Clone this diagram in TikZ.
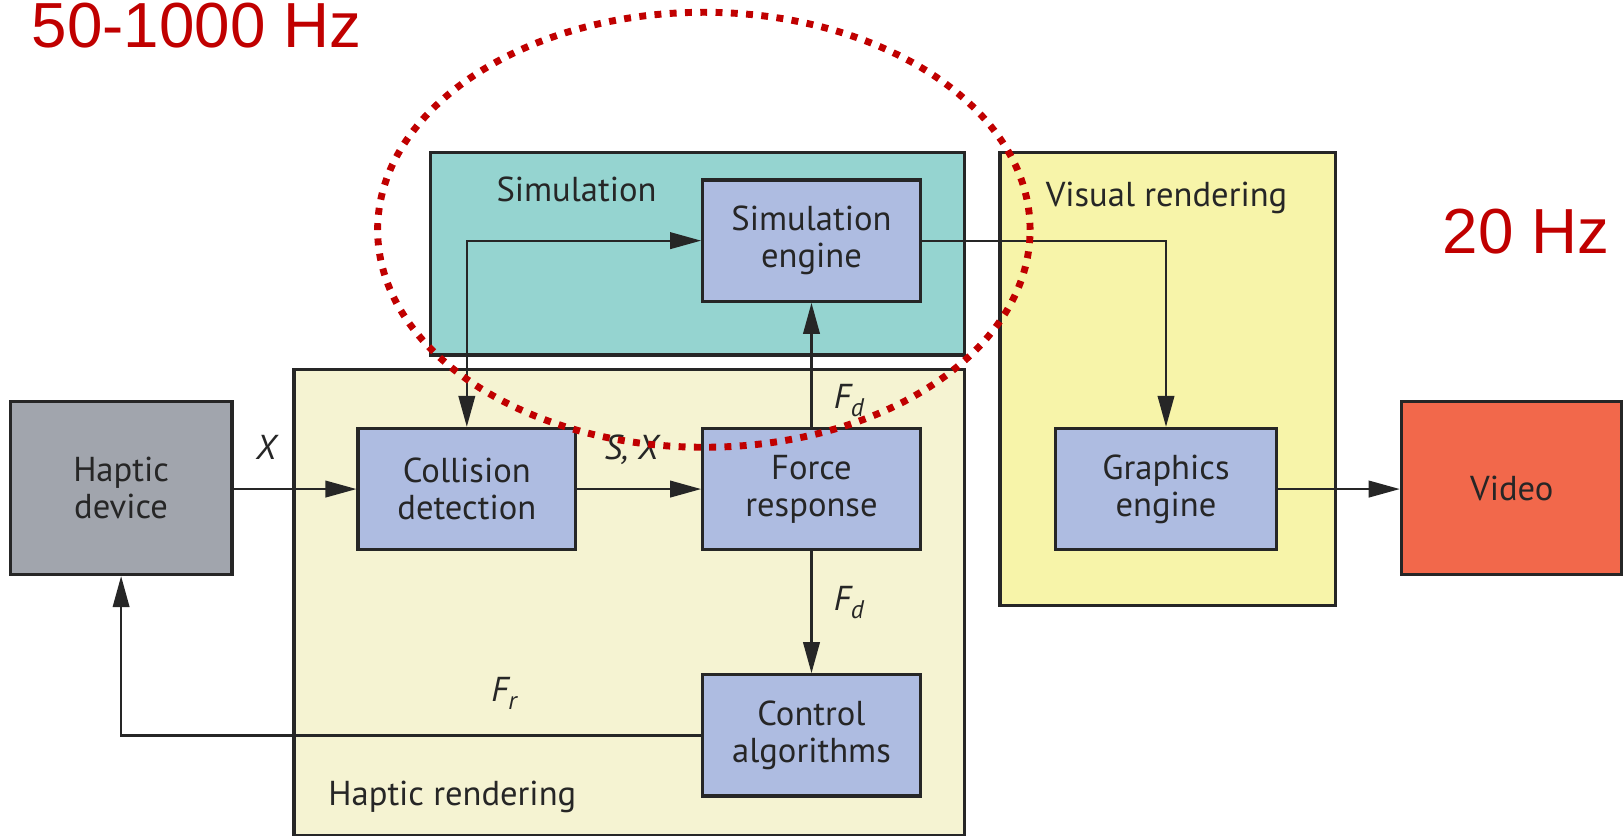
\documentclass[tikz,border=0pt]{standalone}
\usepackage{fontspec}
\setmainfont{PT Sans}
\newfontfamily\hzfont{Liberation Sans}
\usepackage{tikz}
\usetikzlibrary{arrows.meta}

\definecolor{hapgray}{HTML}{A1A5AD}
\definecolor{rendcream}{HTML}{F5F3D2}
\definecolor{simteal}{HTML}{95D4D0}
\definecolor{visyellow}{HTML}{F7F4A9}
\definecolor{engblue}{HTML}{AEBCE1}
\definecolor{vidred}{HTML}{F2684B}
\definecolor{hzred}{HTML}{C00000}
\definecolor{ink}{HTML}{262626}

\newcommand{\fsub}[1]{\textit{F}\raisebox{-0.45ex}{\scriptsize\textit{#1}}}

\begin{document}
\begin{tikzpicture}[x=0.01cm, y=-0.01cm,
    blk/.style={draw=ink, line width=0.9pt, fill=engblue, text=ink,
        minimum width=2.1cm, minimum height=1.17cm, inner sep=0pt,
        align=center, font=\fontsize{9.5}{10.2}\selectfont},
    pnl/.style={draw=ink, line width=0.9pt},
    pnltxt/.style={text=ink, inner sep=0pt, font=\fontsize{9.5}{10.2}\selectfont},
    lbl/.style={text=ink, inner sep=0pt, font=\fontsize{9.5}{10.2}\selectfont\itshape},
    arr/.style={draw=ink, line width=0.6pt, -{Triangle[length=0.3cm,width=0.16cm]}},
    hz/.style={text=hzred, inner sep=0pt, anchor=base west, font=\hzfont\fontsize{17.5}{20}\selectfont}
]

    \useasboundingbox (0,0) rectangle (1568,807);

    % background panels
    \filldraw[pnl, fill=rendcream] (284,357) rectangle (932,807);
    \filldraw[pnl, fill=simteal] (416,147) rectangle (932,343);
    \filldraw[pnl, fill=visyellow] (966,147) rectangle (1290,585);

    \node[pnltxt] (simtitle) at (557,183) {Simulation};
    \node[pnltxt] (vistitle) at (1127,191) {Visual rendering};
    \node[pnltxt] (haptitle) at (437,770) {Haptic rendering};

    % blocks
    \node[blk, fill=hapgray, minimum width=2.14cm, minimum height=1.67cm] (hap) at (117,471.5) {Haptic\\device};
    \node[blk] (col) at (451,472.5) {Collision\\detection};
    \node[blk] (frc) at (784,472.5) {Force\\response};
    \node[blk] (sim) at (784,232.5) {Simulation\\engine};
    \node[blk] (ctl) at (784,710.5) {Control\\algorithms};
    \node[blk, minimum width=2.13cm] (gfx) at (1126.5,472.5) {Graphics\\engine};
    \node[blk, fill=vidred, minimum width=2.13cm, minimum height=1.67cm] (vid) at (1460.5,471.5) {Video};

    % signal flow
    \draw[arr] (hap.east |- col.west) -- (col.west);
    \draw[arr] (col.east) -- (frc.west);
    \draw[arr] (frc.north) -- (sim.south);
    \draw[arr, {Triangle[length=0.3cm,width=0.16cm]}-{Triangle[length=0.3cm,width=0.16cm]}] (col.north) |- (sim.west);
    \draw[arr] (sim.east) -| (gfx.north);
    \draw[arr] (gfx.east) -- (vid.west |- gfx.east);
    \draw[arr] (frc.south) -- (ctl.north);
    \draw[arr] (ctl.west) -| (hap.south);

    \node[lbl] (xin) at (257,432) {X};
    \node[lbl] (sx) at (610,435) {S, X};
    \node[lbl] (fdup) at (820,387) {\fsub{d}};
    \node[lbl] (fddown) at (820,582) {\fsub{d}};
    \node[lbl] (frback) at (487,670) {\fsub{r}};

    % update rates
    \draw[hzred, line width=1.9pt, dash pattern=on 1.9pt off 2.3pt] (680,222) ellipse [x radius=3.15cm, y radius=2.1cm];
    \node[hz] (fast) at (30,46) {50-1000 Hz};
    \node[hz] (slow) at (1393,245) {20 Hz};

\end{tikzpicture}
\end{document}
